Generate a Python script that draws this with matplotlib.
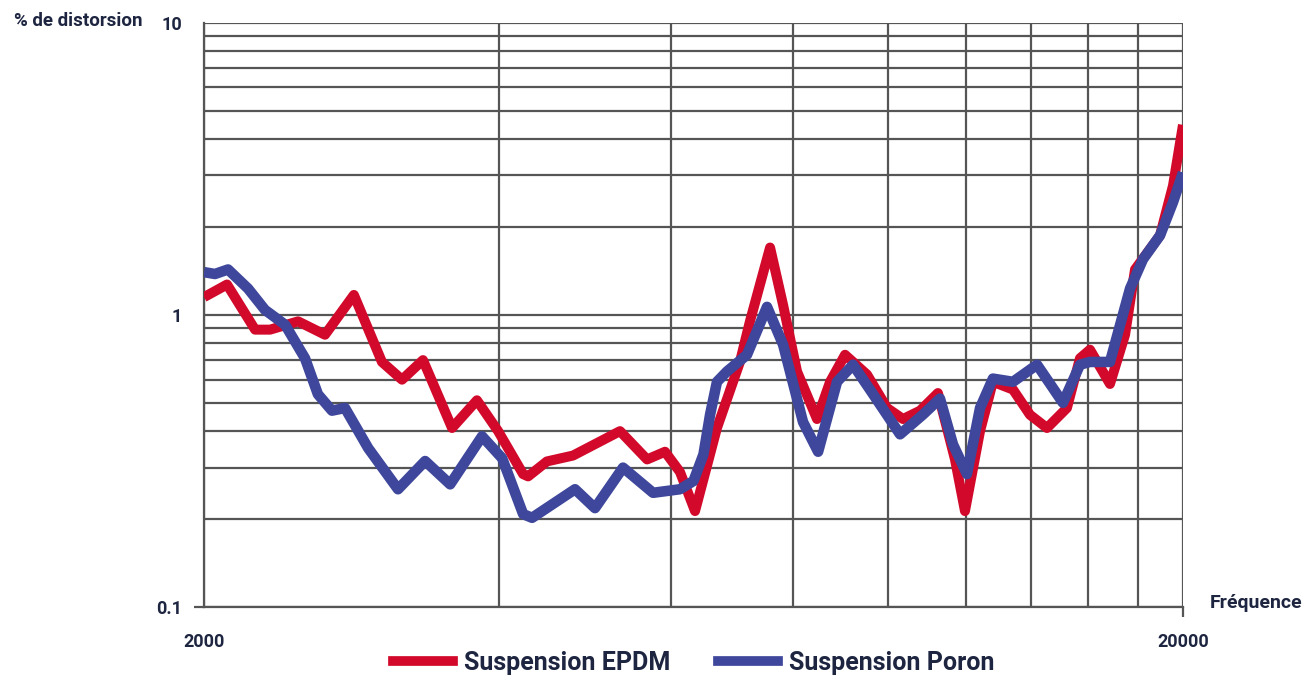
import numpy as np
import matplotlib
matplotlib.use("Agg")
import matplotlib.pyplot as plt
from matplotlib.lines import Line2D

# ---------------------------------------------------------------------------
# data (frequency in Hz, distortion in %)
# ---------------------------------------------------------------------------
freq_epdm = [2000, 2111, 2255, 2336, 2495, 2658, 2845, 3039, 3186, 3347,
             3584, 3800, 3994, 4236, 4286, 4480, 4764, 5320, 5670, 5914,
             6126, 6347, 6683, 7054, 7222, 7572, 7808, 8068, 8456, 8720,
             9032, 9510, 9970, 10352, 10776, 11238, 11698, 11976, 12408, 12790,
             13408, 13954, 14524, 15222, 15696, 16070, 16844, 17452, 17866, 18508,
             18948, 19536, 20000]
dist_epdm = [1.15, 1.27, 0.89, 0.89, 0.95, 0.855, 1.17, 0.69, 0.60, 0.70,
             0.41, 0.51, 0.40, 0.285, 0.28, 0.315, 0.33, 0.40, 0.32, 0.34,
             0.29, 0.213, 0.41, 0.69, 0.95, 1.70, 1.08, 0.64, 0.44, 0.59,
             0.73, 0.625, 0.48, 0.44, 0.47, 0.54, 0.32, 0.213, 0.40, 0.59,
             0.555, 0.455, 0.41, 0.48, 0.71, 0.76, 0.58, 0.855, 1.43, 1.68,
             1.87, 2.77, 4.47]

freq_poron = [2000, 2052, 2116, 2218, 2308, 2420, 2536, 2614, 2702, 2786,
              2942, 3156, 3364, 3568, 3846, 4032, 4236, 4326, 4786, 5016,
              5358, 5750, 6126, 6324, 6474, 6576, 6683, 6842, 7172, 7518,
              7808, 8182, 8478, 8864, 9204, 9648, 10280, 10852, 11292, 11644,
              12032, 12408, 12790, 13408, 14188, 15080, 15696, 16070, 16844, 17658,
              18204, 18948, 19536, 20000]
dist_poron = [1.40, 1.38, 1.43, 1.23, 1.04, 0.925, 0.71, 0.535, 0.47, 0.48,
              0.35, 0.253, 0.316, 0.263, 0.384, 0.323, 0.208, 0.202, 0.253, 0.218,
              0.30, 0.246, 0.253, 0.27, 0.333, 0.456, 0.59, 0.64, 0.73, 1.065,
              0.79, 0.43, 0.34, 0.59, 0.675, 0.535, 0.39, 0.456, 0.517, 0.36,
              0.285, 0.48, 0.605, 0.59, 0.675, 0.50, 0.675, 0.69, 0.69, 1.23,
              1.55, 1.87, 2.43, 3.07]

x_grid = [2000, 4000, 6000, 8000, 10000, 12000, 14000, 16000, 18000, 20000]
y_grid = [0.1, 0.2, 0.3, 0.4, 0.5, 0.6, 0.7, 0.8, 0.9,
          1, 2, 3, 4, 5, 6, 7, 8, 9, 10]
x_ticks = [2000, 20000]
x_labels = ["2000", "20000"]
y_ticks = [0.1, 1, 10]
y_labels = ["0.1", "1", "10"]

RED = "#d2092a"
BLUE = "#3e479b"
GRID = "#555555"
TXT = "#1d2540"
FONT = ["Liberation Sans Narrow", "Roboto", "DejaVu Sans"]

fig = plt.figure(figsize=(13.14, 6.79), dpi=100)
ax = fig.add_axes([0.1553, 0.106, 0.9003 - 0.1553, 0.9666 - 0.106])
ax.set_xscale("log")
ax.set_yscale("log")
ax.set_xlim(2000, 20000)
ax.set_ylim(0.1, 10)

for xv in x_grid:
    ax.axvline(xv, color=GRID, lw=1.6, zorder=1)
for yv in y_grid:
    ax.axhline(yv, color=GRID, lw=1.6, zorder=1)

ax.plot(freq_epdm, dist_epdm, color=RED, lw=7.2, solid_joinstyle="round",
        solid_capstyle="butt", zorder=3)
ax.plot(freq_poron, dist_poron, color=BLUE, lw=7.6, solid_joinstyle="round",
        solid_capstyle="butt", zorder=4)

for s in ["top", "right"]:
    ax.spines[s].set_visible(False)
for s in ["left", "bottom"]:
    ax.spines[s].set_color(GRID)
    ax.spines[s].set_linewidth(1.6)

ax.minorticks_off()
ax.set_xticks(x_ticks)
ax.set_xticklabels(x_labels)
ax.set_yticks(y_ticks)
ax.set_yticklabels(y_labels)
ax.tick_params(axis="both", length=7, width=1.6, color=GRID)
ax.tick_params(axis="x", pad=12)
ax.tick_params(axis="y", pad=9)
ax.xaxis.get_major_ticks()[0].tick1line.set_visible(False)
for t in ax.yaxis.get_major_ticks()[1:]:
    t.tick1line.set_visible(False)
for lab in ax.get_xticklabels() + ax.get_yticklabels():
    lab.set_fontfamily(FONT)
    lab.set_fontweight("bold")
    lab.set_fontsize(13)
    lab.set_color(TXT)

fig.text(0.011, 0.969, "% de distorsion", fontsize=13.5, fontweight="bold",
         color=TXT, family=FONT, va="center", ha="left")
fig.text(0.921, 0.112, "Fréquence", fontsize=14, fontweight="bold",
         color=TXT, family=FONT, va="center", ha="left")

handles = [Line2D([], [], color=RED, lw=7),
           Line2D([], [], color=BLUE, lw=7)]
fig.legend(handles, ["Suspension EPDM", "Suspension Poron"], loc="center",
           bbox_to_anchor=(0.528, 0.024), ncol=2, frameon=False,
           handlelength=2.4, handletextpad=0.45, columnspacing=1.9,
           prop={"family": FONT, "size": 18, "weight": "bold"},
           labelcolor=TXT)

plt.savefig("out.png", dpi=100, facecolor="white")
